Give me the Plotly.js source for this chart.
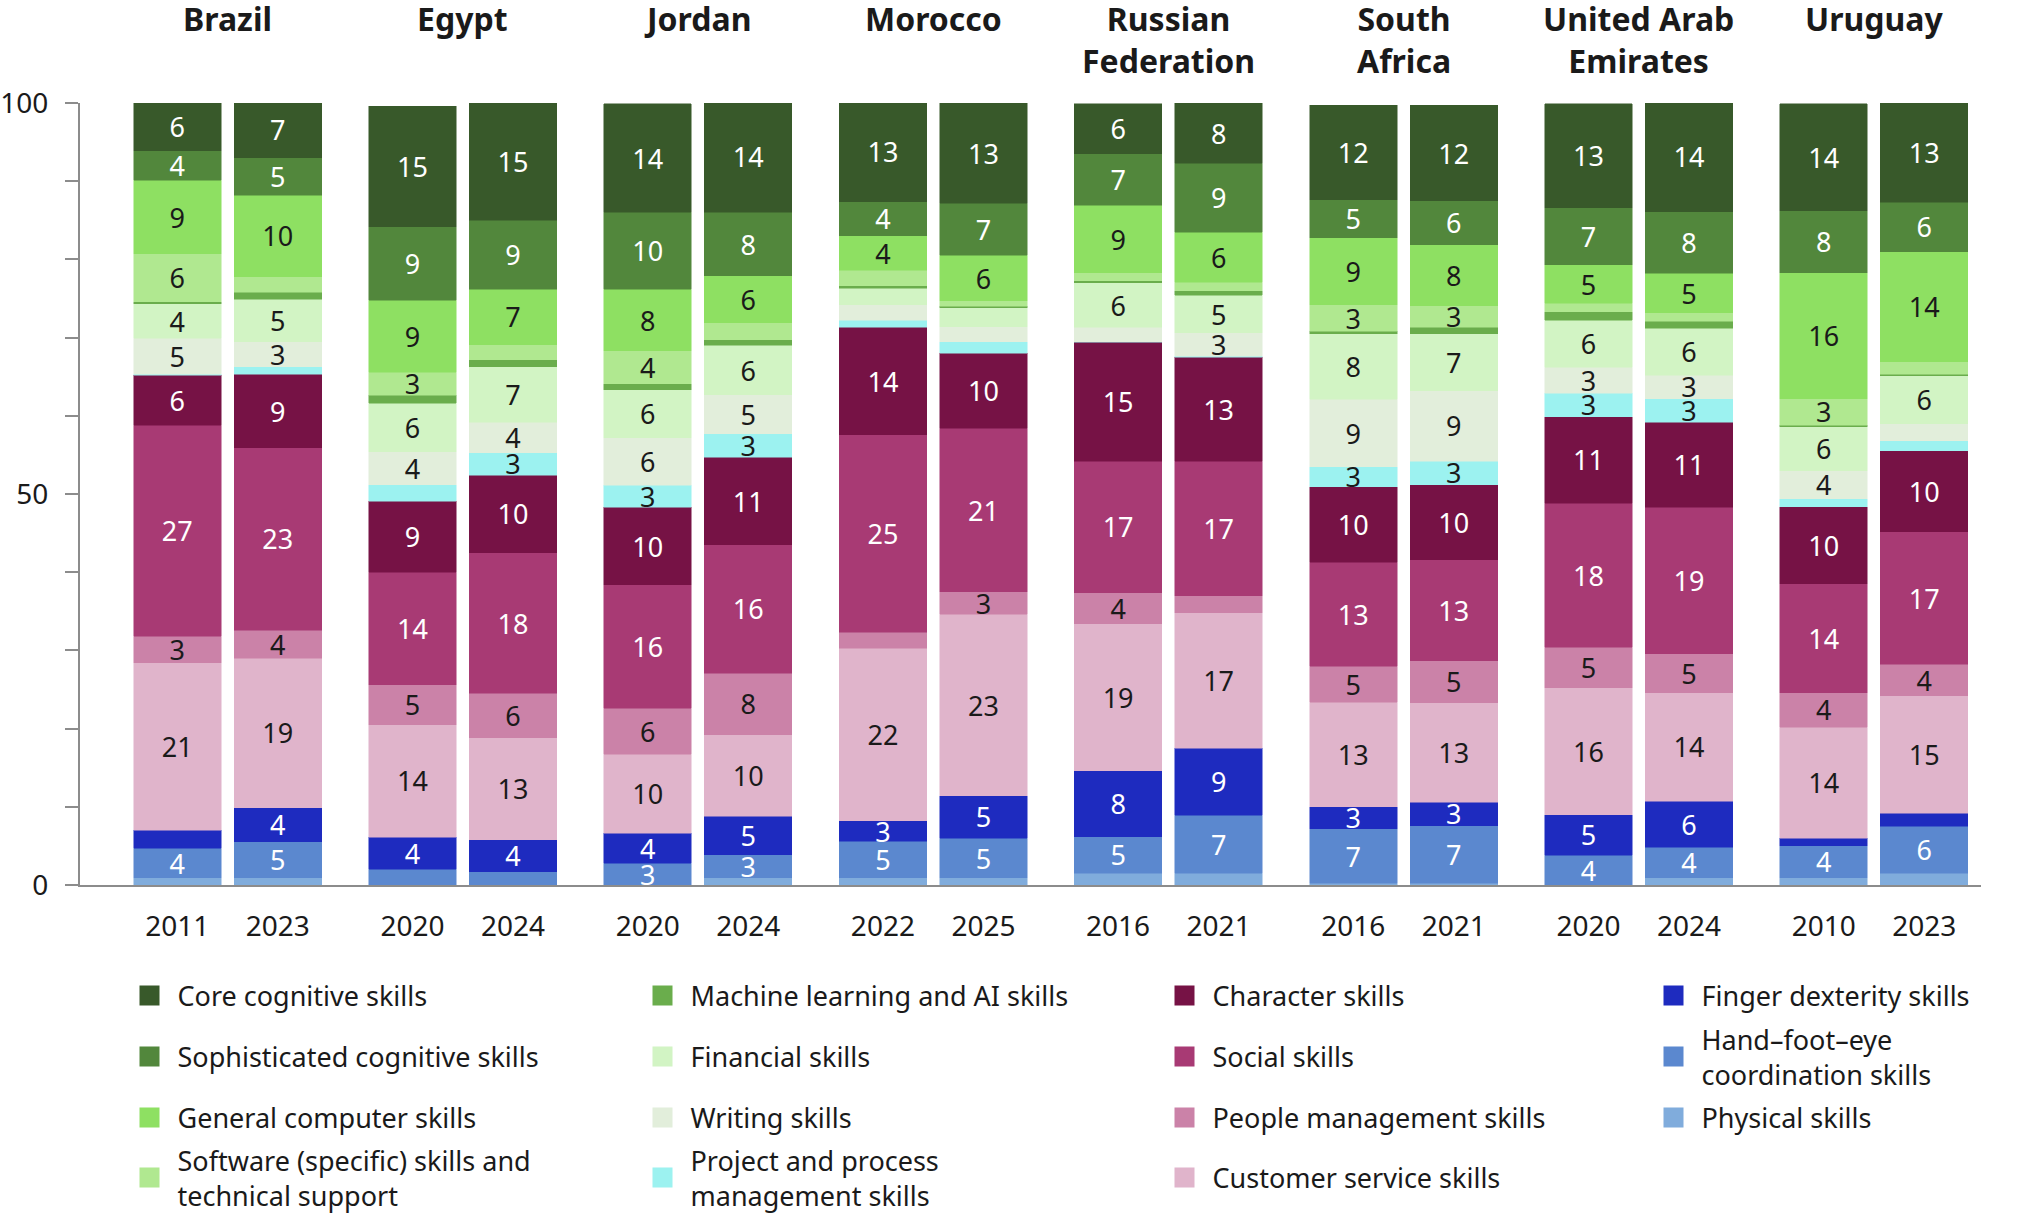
<!DOCTYPE html>
<html><head><meta charset="utf-8">
<script src="https://cdn.plot.ly/plotly-3.0.1.min.js"></script>
<style>
html,body{margin:0;padding:0;background:#fff;}
#chart{width:2017px;height:1216px;}
</style></head><body><div id="chart"></div>
<script>
// ---- data ----
const countries = ['Brazil','Egypt','Jordan','Morocco','Russian<br>Federation','South<br>Africa','United Arab<br>Emirates','Uruguay'];
const years = ['2011','2023','2020','2024','2020','2024','2022','2025','2016','2021','2016','2021','2020','2024','2010','2023'];

// skills listed bottom of stack to top
const skills = ['Physical skills','Hand–foot–eye<br>coordination skills','Finger dexterity skills','Customer service skills',
  'People management skills','Social skills','Character skills','Project and process<br>management skills','Writing skills',
  'Financial skills','Machine learning and AI skills','Software (specific) skills and<br>technical support',
  'General computer skills','Sophisticated cognitive skills','Core cognitive skills'];

const physical  = [0.9, 0.9, 0.0, 0.0, 0.0, 0.9, 0.9, 0.9, 1.5, 1.5, 0.2, 0.2, 0.0, 0.9, 0.9, 1.5];
const hand      = [3.8, 4.6, 2.0, 1.7, 2.8, 3.0, 4.7, 5.1, 4.7, 7.4, 7.0, 7.4, 3.8, 3.9, 4.1, 6.0];
const finger    = [2.3, 4.4, 4.1, 4.1, 3.8, 4.9, 2.6, 5.4, 8.4, 8.6, 2.8, 3.0, 5.2, 5.9, 1.0, 1.7];
const customer  = [21.4, 19.1, 14.4, 13.0, 10.1, 10.4, 22.1, 23.2, 18.8, 17.3, 13.4, 12.7, 16.2, 13.9, 14.2, 15.0];
const people    = [3.4, 3.6, 5.1, 5.7, 5.9, 7.9, 2.0, 2.9, 4.0, 2.2, 4.6, 5.4, 5.2, 5.0, 4.4, 4.0];
const social    = [27.0, 23.3, 14.4, 18.0, 15.8, 16.4, 25.3, 20.9, 16.8, 17.2, 13.3, 12.9, 18.4, 18.7, 13.9, 17.0];
const character = [6.4, 9.4, 9.1, 9.9, 9.9, 11.2, 13.7, 9.6, 15.2, 13.3, 9.6, 9.6, 11.1, 10.9, 9.9, 10.3];
const project   = [0.1, 1.0, 2.1, 2.9, 2.8, 3.0, 0.9, 1.5, 0.1, 0.1, 2.6, 3.0, 3.0, 3.0, 1.0, 1.3];
const writing   = [4.6, 3.2, 4.2, 3.9, 6.1, 5.0, 2.0, 1.9, 1.8, 3.0, 8.6, 9.0, 3.3, 3.0, 3.6, 2.2];
const financial = [4.4, 5.4, 6.2, 7.1, 6.1, 6.3, 2.1, 2.4, 5.7, 4.8, 8.4, 7.3, 6.0, 6.0, 5.6, 6.1];
const ml        = [0.3, 0.9, 1.0, 0.9, 0.8, 0.7, 0.3, 0.2, 0.3, 0.6, 0.3, 0.8, 1.1, 0.9, 0.2, 0.2];
const software  = [6.1, 2.0, 3.0, 1.9, 4.2, 2.2, 2.0, 0.7, 1.0, 1.1, 3.4, 2.8, 1.1, 1.1, 3.4, 1.6];
const general   = [9.4, 10.4, 9.2, 7.1, 7.9, 6.0, 4.4, 5.8, 8.6, 6.4, 8.6, 7.8, 4.9, 5.0, 16.1, 14.1];
const soph      = [3.8, 4.8, 9.4, 8.8, 9.8, 8.1, 4.4, 6.7, 6.6, 8.8, 4.8, 5.6, 7.3, 7.9, 7.9, 6.3];
const core      = [6.2, 7.3, 15.4, 15.0, 13.9, 14.2, 12.8, 12.8, 6.4, 7.7, 12.1, 12.2, 13.3, 14.0, 13.7, 12.8];

const series = [physical, hand, finger, customer, people, social, character, project, writing, financial, ml, software, general, soph, core];

// ---- styles ----
const colors = ['#80acdc','#5b88cf','#1e2bbf','#e0b4cb','#cb82a8','#a83a74','#761245','#9cf2f0','#e2eedb',
  '#d2f4c4','#6aad4c','#b0e890','#8ee062','#52873c','#38592a'];
const whiteLabel = [true, true, true, false, false, true, true, false, false, false, false, false, false, true, true];

// legend grid: [column, row] for each skill
const legendCell = [[3,2],[3,1],[3,0],[2,3],[2,2],[2,1],[2,0],[1,3],[1,2],[1,1],[1,0],[0,3],[0,2],[0,1],[0,0]];
const colSwatchPx = [149.5, 662.5, 1184.5, 1673.5];
const rowCenterPx = [996, 1057, 1118, 1178];

const W = 2017, H = 1216;
const mL = 80, mR = 36, mT = 103, mB = 331;
const plotW = W - mL - mR, plotH = H - mT - mB;
const FONT = 'Noto Sans, Open Sans, sans-serif';
const ITEMW = 46;
const CENTER = (ITEMW + 10) / 2;

const groupStep = 2.34;
const xPos = years.map((_, i) => Math.floor(i / 2) * groupStep + (i % 2));

const traces = series.map((vals, k) => {
  const legendKey = k === 0 ? 'legend' : 'legend' + (k + 1);
  return {
    type: 'bar',
    name: skills[k],
    x: xPos,
    y: vals,
    width: 0.87,
    legend: legendKey,
    marker: {color: colors[k], line: {color: colors[k], width: 0.5}},
    text: vals.map(v => Math.round(v) >= 3 ? String(Math.round(v)) : ''),
    textposition: 'inside',
    insidetextanchor: 'middle',
    textangle: 0,
    constraintext: 'none',
    textfont: {family: FONT, size: 27, color: whiteLabel[k] ? '#ffffff' : '#1a1a1a'},
    hoverinfo: 'skip'
  };
});

const layout = {
  width: W, height: H,
  margin: {l: mL, r: mR, t: mT, b: mB, pad: 0, autoexpand: false},
  paper_bgcolor: '#ffffff', plot_bgcolor: '#ffffff',
  barmode: 'stack',
  showlegend: true,
  font: {family: FONT, color: '#1a1a1a'},
  xaxis: {
    range: [-0.968, 17.945],
    tickvals: xPos, ticktext: years,
    ticks: 'outside', ticklen: 15, tickcolor: 'rgba(0,0,0,0)',
    tickfont: {family: FONT, size: 28, color: '#1a1a1a'},
    showline: true, linecolor: '#8c8c8c', linewidth: 2,
    showgrid: false, zeroline: false, fixedrange: true, automargin: false
  },
  yaxis: {
    range: [0, 100],
    tickvals: [0,10,20,30,40,50,60,70,80,90,100],
    ticktext: ['0','','','','','50','','','','','100'],
    ticks: 'outside', ticklen: 13, tickwidth: 2, tickcolor: '#8c8c8c',
    ticklabelstandoff: 11,
    tickfont: {family: FONT, size: 28, color: '#1a1a1a'},
    showline: true, linecolor: '#8c8c8c', linewidth: 2,
    showgrid: false, zeroline: false, fixedrange: true, automargin: false
  },
  annotations: countries.map((c, g) => ({
    text: '<b>' + c + '</b>',
    x: g * groupStep + 0.5, xref: 'x',
    y: 1 + (mT + 1) / plotH, yref: 'paper',
    yshift: 4,
    xanchor: 'center', yanchor: 'top',
    showarrow: false,
    font: {family: FONT, size: 32, color: '#1a1a1a'}
  }))
};

series.forEach((_, k) => {
  const key = k === 0 ? 'legend' : 'legend' + (k + 1);
  const [col, row] = legendCell[k];
  layout[key] = {
    x: (colSwatchPx[col] - CENTER - mL) / plotW,
    y: (mT + plotH - rowCenterPx[row]) / plotH,
    xanchor: 'left', yanchor: 'middle',
    orientation: 'v',
    itemwidth: ITEMW,
    bgcolor: 'rgba(0,0,0,0)', borderwidth: 0,
    font: {family: FONT, size: 27, color: '#1a1a1a'},
    itemclick: false, itemdoubleclick: false
  };
});

function enlargeKeys(gd) {
  // enlarge the legend swatches to match the reference's square keys
  gd.querySelectorAll('.legendpoints path').forEach(p => {
    p.setAttribute('d', 'M10,10H-10V-10H10Z');
    p.style.strokeWidth = '0px';
  });
}

Plotly.newPlot('chart', traces, layout, {displayModeBar: false, staticPlot: true}).then(gd => {
  enlargeKeys(gd);
  gd.on('plotly_afterplot', () => enlargeKeys(gd));
  setTimeout(() => enlargeKeys(gd), 50);
  setTimeout(() => enlargeKeys(gd), 300);
});
</script>
</body></html>
